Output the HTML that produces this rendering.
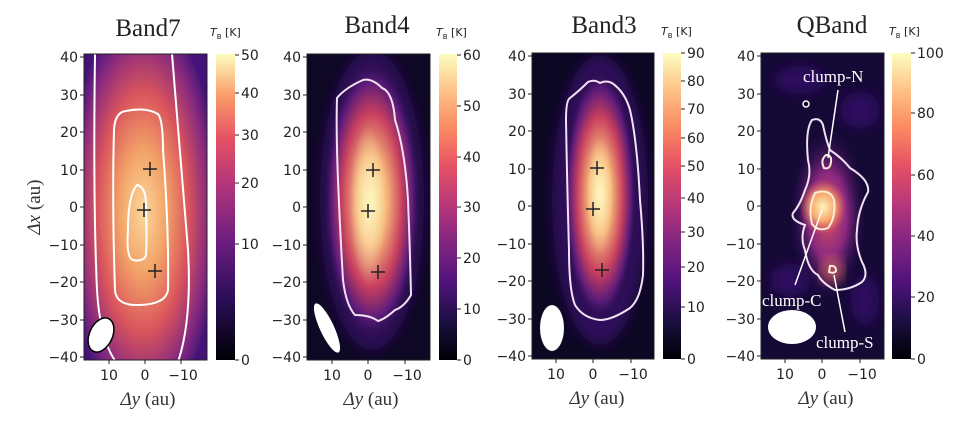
<!DOCTYPE html>
<html><head><meta charset="utf-8"><style>
body{margin:0;background:#fff}
svg{display:block}
.t{font-family:"Liberation Serif",serif;font-size:25px;fill:#222}
.k{font-family:"DejaVu Sans","Liberation Sans",sans-serif;font-size:14px;fill:#222}
.cb{font-family:"DejaVu Sans","Liberation Sans",sans-serif;font-size:11px;fill:#222}
.ax{font-family:"Liberation Serif",serif;font-size:19px;fill:#333}
.cl{font-family:"Liberation Serif",serif;font-size:17px;fill:#fff}
</style></head><body>
<svg width="961" height="436" viewBox="0 0 961 436" xmlns="http://www.w3.org/2000/svg">
<defs>
<linearGradient id="magma" x1="0" y1="1" x2="0" y2="0">
<stop offset="0" stop-color="#000004"/><stop offset="0.13" stop-color="#1c1044"/><stop offset="0.25" stop-color="#4f127b"/><stop offset="0.38" stop-color="#812581"/><stop offset="0.5" stop-color="#b5367a"/><stop offset="0.63" stop-color="#e55064"/><stop offset="0.75" stop-color="#fb8761"/><stop offset="0.88" stop-color="#fec287"/><stop offset="1" stop-color="#fcfdbf"/>
</linearGradient>
<radialGradient id="g7"><stop offset="0" stop-color="#fbd79c"/><stop offset="0.3" stop-color="#f3a468"/><stop offset="0.6" stop-color="#d9545c"/><stop offset="0.85" stop-color="#8a2a7e"/><stop offset="1" stop-color="#4a167a"/></radialGradient>
<radialGradient id="g4"><stop offset="0" stop-color="#fcf0b0"/><stop offset="0.3" stop-color="#f7b678"/><stop offset="0.6" stop-color="#c8405f"/><stop offset="0.82" stop-color="#5a1a7a"/><stop offset="1" stop-color="#140b30" stop-opacity="0"/></radialGradient>
<radialGradient id="gq"><stop offset="0" stop-color="#d8525e"/><stop offset="0.5" stop-color="#8a2880"/><stop offset="1" stop-color="#2a0e58" stop-opacity="0"/></radialGradient>
<radialGradient id="gqc"><stop offset="0" stop-color="#fcf4b8"/><stop offset="0.5" stop-color="#f8a86e"/><stop offset="1" stop-color="#e05560" stop-opacity="0"/></radialGradient>
<radialGradient id="glow"><stop offset="0" stop-color="#fdf6c0"/><stop offset="1" stop-color="#fdf6c0" stop-opacity="0"/></radialGradient>
<filter id="bl"><feGaussianBlur stdDeviation="6"/></filter>
<clipPath id="c1"><rect x="84" y="54" width="123" height="306"/></clipPath>
<clipPath id="c2"><rect x="307" y="54" width="123" height="306"/></clipPath>
<clipPath id="c3"><rect x="532" y="53" width="122" height="306"/></clipPath>
<clipPath id="c4"><rect x="761" y="53" width="123" height="306"/></clipPath>
<g id="plus"><path d="M-7 0H7M0-7V7" stroke="#222" stroke-width="1.5"/></g>
</defs>

<!-- Panel 1 -->
<text class="t" x="148" y="36" text-anchor="middle">Band7</text>
<g clip-path="url(#c1)">
<rect x="84" y="54" width="123" height="306" fill="#44137a"/>
<ellipse cx="143" cy="212" rx="76" ry="200" fill="url(#g7)"/>
<path d="M95 54 Q93 200 97 290 Q100 340 116 362" stroke="#fff" stroke-width="2" fill="none"/>
<path d="M172 54 Q180 150 188 250 Q192 320 178 362" stroke="#fff" stroke-width="2" fill="none"/>
<path d="M126 111 Q146 107 158 114 Q163 120 163 150 Q169 230 168 290 Q166 304 140 305 Q116 306 115 290 Q112 200 114 130 Q115 112 126 111Z" stroke="#fff" stroke-width="2" fill="none"/>
<path d="M137 185 Q146 187 146 205 Q147 240 146 255 Q144 262 133 260 Q126 258 128 230 Q128 195 137 185Z" stroke="#fff" stroke-width="2" fill="none"/>
<use href="#plus" x="150" y="169"/><use href="#plus" x="144" y="210"/><use href="#plus" x="155" y="271"/>
<ellipse cx="101" cy="335" rx="11.5" ry="18" transform="rotate(25 101 335)" fill="#fff" stroke="#000" stroke-width="1.5"/>
</g>
<rect x="84" y="54" width="123" height="306" fill="none" stroke="#222" stroke-width="1"/>
<g class="k" text-anchor="end">
<text x="78" y="62">40</text><text x="78" y="100">30</text><text x="78" y="137">20</text><text x="78" y="175">10</text><text x="78" y="212">0</text><text x="78" y="250">−10</text><text x="78" y="287">−20</text><text x="78" y="325">−30</text><text x="78" y="362">−40</text>
</g>
<g stroke="#222"><path d="M80 57h4M80 95h4M80 132h4M80 170h4M80 207h4M80 245h4M80 282h4M80 320h4M80 357h4M109 360v4M145 360v4M181 360v4"/></g>
<g class="k" text-anchor="middle"><text x="109" y="380">10</text><text x="145" y="380">0</text><text x="183" y="380">−10</text></g>
<text class="ax" x="148" y="405" text-anchor="middle"><tspan font-style="italic">Δy</tspan>  (au)</text>
<text class="ax" transform="translate(40 207) rotate(-90)" text-anchor="middle"><tspan font-style="italic">Δx</tspan>  (au)</text>
<linearGradient id="magma7" x1="0" y1="1" x2="0" y2="0">
<stop offset="0" stop-color="#000004"/><stop offset="0.2" stop-color="#2a0e58"/><stop offset="0.38" stop-color="#6a1d80"/><stop offset="0.58" stop-color="#b5367a"/><stop offset="0.72" stop-color="#e55064"/><stop offset="0.86" stop-color="#fb9a68"/><stop offset="1" stop-color="#fcfdbf"/>
</linearGradient>
<rect x="216" y="54" width="19" height="306" fill="url(#magma7)"/>
<g stroke="#222"><path d="M235 55h4M235 93h4M235 135h4M235 183h4M235 244h4M235 360h4"/></g>
<g class="k"><text x="241" y="60">50</text><text x="241" y="98">40</text><text x="241" y="140">30</text><text x="241" y="188">20</text><text x="241" y="249">10</text><text x="241" y="365">0</text></g>
<text class="cb" x="210" y="36"><tspan font-style="italic">T</tspan><tspan font-size="7" dy="3">B</tspan><tspan dy="-3"> [K]</tspan></text>

<!-- Panel 2 -->
<text class="t" x="377" y="33" text-anchor="middle">Band4</text>
<g clip-path="url(#c2)">
<rect x="307" y="54" width="123" height="306" fill="#0e0824"/>
<ellipse cx="372" cy="200" rx="52" ry="150" fill="#2e0c5c" filter="url(#bl)"/>
<ellipse cx="372" cy="200" rx="50" ry="145" fill="url(#g4)"/>
<ellipse cx="368" cy="205" rx="18" ry="80" fill="url(#glow)" opacity="0.8"/>
<path d="M363 80 Q372 78 382 88 Q393 92 395 120 Q405 150 408 200 Q410 250 411 295 Q404 307 395 310 Q385 319 378 321 Q370 315 355 315 Q346 305 343 280 Q340 230 338 180 Q336 130 337 98 Q345 88 363 80Z" stroke="#f3e2f3" stroke-width="2" fill="none"/>
<use href="#plus" x="373" y="170"/><use href="#plus" x="368" y="211"/><use href="#plus" x="378" y="272"/>
<ellipse cx="327" cy="328" rx="7" ry="27" transform="rotate(-25 327 328)" fill="#fff"/>
</g>
<rect x="307" y="54" width="123" height="306" fill="none" stroke="#222"/>
<g class="k" text-anchor="end">
<text x="301" y="62">40</text><text x="301" y="100">30</text><text x="301" y="137">20</text><text x="301" y="175">10</text><text x="301" y="212">0</text><text x="301" y="250">−10</text><text x="301" y="287">−20</text><text x="301" y="325">−30</text><text x="301" y="362">−40</text>
</g>
<g stroke="#222"><path d="M303 57h4M303 95h4M303 132h4M303 170h4M303 207h4M303 245h4M303 282h4M303 320h4M303 357h4M332 360v4M368 360v4M405 360v4"/></g>
<g class="k" text-anchor="middle"><text x="332" y="380">10</text><text x="368" y="380">0</text><text x="407" y="380">−10</text></g>
<text class="ax" x="371" y="405" text-anchor="middle"><tspan font-style="italic">Δy</tspan>  (au)</text>
<rect x="439" y="54" width="18" height="306" fill="url(#magma)"/>
<g stroke="#222"><path d="M457 55h4M457 106h4M457 157h4M457 207h4M457 258h4M457 309h4M457 360h4"/></g>
<g class="k"><text x="463" y="60">60</text><text x="463" y="111">50</text><text x="463" y="162">40</text><text x="463" y="212">30</text><text x="463" y="263">20</text><text x="463" y="314">10</text><text x="463" y="365">0</text></g>
<text class="cb" x="436" y="36"><tspan font-style="italic">T</tspan><tspan font-size="7" dy="3">B</tspan><tspan dy="-3"> [K]</tspan></text>

<!-- Panel 3 -->
<text class="t" x="604" y="33" text-anchor="middle">Band3</text>
<g clip-path="url(#c3)">
<rect x="532" y="53" width="122" height="306" fill="#0c0722"/>
<ellipse cx="600" cy="200" rx="48" ry="145" fill="#2e0c5c" filter="url(#bl)"/>
<ellipse cx="600" cy="195" rx="38" ry="130" fill="url(#g4)"/>
<ellipse cx="600" cy="195" rx="13" ry="60" fill="url(#glow)" opacity="0.7"/>
<path d="M588 82 Q594 79 600 83 Q606 80 612 83 Q625 92 630 110 Q637 140 640 200 Q644 245 643 275 Q640 300 630 308 Q612 320 600 320 Q583 318 575 305 Q569 290 569 250 Q567 180 566 120 Q566 100 570 98 Q580 90 588 82Z" stroke="#f3e2f3" stroke-width="2" fill="none"/>
<use href="#plus" x="597" y="168"/><use href="#plus" x="593" y="209"/><use href="#plus" x="602" y="270"/>
<ellipse cx="552" cy="328" rx="12" ry="23" fill="#fff"/>
</g>
<rect x="532" y="53" width="122" height="306" fill="none" stroke="#222"/>
<g class="k" text-anchor="end">
<text x="526" y="61">40</text><text x="526" y="99">30</text><text x="526" y="136">20</text><text x="526" y="174">10</text><text x="526" y="211">0</text><text x="526" y="249">−10</text><text x="526" y="286">−20</text><text x="526" y="324">−30</text><text x="526" y="361">−40</text>
</g>
<g stroke="#222"><path d="M528 56h4M528 94h4M528 131h4M528 169h4M528 206h4M528 244h4M528 281h4M528 319h4M528 356h4M556 359v4M593 359v4M631 359v4"/></g>
<g class="k" text-anchor="middle"><text x="556" y="379">10</text><text x="593" y="379">0</text><text x="633" y="379">−10</text></g>
<text class="ax" x="597" y="404" text-anchor="middle"><tspan font-style="italic">Δy</tspan>  (au)</text>
<rect x="663" y="53" width="18" height="306" fill="url(#magma)"/>
<g stroke="#222"><path d="M681 53h4M681 81h4M681 109h4M681 138h4M681 166h4M681 198h4M681 232h4M681 267h4M681 307h4M681 359h4"/></g>
<g class="k"><text x="687" y="58">90</text><text x="687" y="86">80</text><text x="687" y="114">70</text><text x="687" y="143">60</text><text x="687" y="171">50</text><text x="687" y="203">40</text><text x="687" y="237">30</text><text x="687" y="272">20</text><text x="687" y="312">10</text><text x="687" y="364">0</text></g>
<text class="cb" x="661" y="35"><tspan font-style="italic">T</tspan><tspan font-size="7" dy="3">B</tspan><tspan dy="-3"> [K]</tspan></text>

<!-- Panel 4 -->
<text class="t" x="832" y="33" text-anchor="middle">QBand</text>
<g clip-path="url(#c4)">
<rect x="761" y="53" width="123" height="306" fill="#150936"/>
<g filter="url(#bl)" fill="#34106a" opacity="0.8"><ellipse cx="800" cy="80" rx="25" ry="14"/><ellipse cx="860" cy="110" rx="20" ry="18"/><ellipse cx="790" cy="280" rx="20" ry="16"/><ellipse cx="865" cy="300" rx="14" ry="25"/></g>
<ellipse cx="828" cy="215" rx="38" ry="85" fill="url(#gq)"/>
<ellipse cx="823" cy="207" rx="24" ry="28" fill="url(#gqc)"/>
<ellipse cx="832" cy="270" rx="12" ry="14" fill="#e8705e" opacity="0.6" filter="url(#bl)"/>
<path d="M812 120 Q820 117 823 125 Q826 140 830 150 Q842 158 850 168 Q870 180 868 192 Q858 210 857 230 Q855 245 862 262 Q869 275 862 282 Q850 290 835 290 Q822 283 818 275 Q808 270 805 250 Q800 238 805 225 Q790 220 793 213 Q800 205 805 190 Q812 175 808 160 Q805 130 812 120Z" stroke="#f3e2f3" stroke-width="2" fill="none"/>
<path d="M815 193 Q830 188 834 200 Q836 218 828 228 Q818 232 812 224 Q808 207 815 193Z" stroke="#f7ecd8" stroke-width="2" fill="none"/>
<path d="M826 155 Q832 155 831 162 Q830 170 824 168 Q820 160 826 155Z" stroke="#f7ecd8" stroke-width="2" fill="none"/>
<path d="M830 266 Q836 265 836 271 Q834 274 829 272Z" stroke="#f7ecd8" stroke-width="2" fill="none"/>
<circle cx="806" cy="104" r="3" stroke="#fff" stroke-width="1.5" fill="none"/>
<path d="M838 90 L828 158 M822 210 L795 285 M834 275 L845 332" stroke="#fff" stroke-width="1.5"/>
<text class="cl" x="803" y="82">clump-N</text>
<text class="cl" x="762" y="306">clump-C</text>
<text class="cl" x="816" y="348">clump-S</text>
<ellipse cx="792" cy="327" rx="24" ry="17" fill="#fff"/>
</g>
<rect x="761" y="53" width="123" height="306" fill="none" stroke="#222"/>
<g class="k" text-anchor="end">
<text x="755" y="61">40</text><text x="755" y="99">30</text><text x="755" y="136">20</text><text x="755" y="174">10</text><text x="755" y="211">0</text><text x="755" y="249">−10</text><text x="755" y="286">−20</text><text x="755" y="324">−30</text><text x="755" y="361">−40</text>
</g>
<g stroke="#222"><path d="M757 56h4M757 94h4M757 131h4M757 169h4M757 206h4M757 244h4M757 281h4M757 319h4M757 356h4M785 359v4M822 359v4M860 359v4"/></g>
<g class="k" text-anchor="middle"><text x="785" y="379">10</text><text x="822" y="379">0</text><text x="862" y="379">−10</text></g>
<text class="ax" x="826" y="404" text-anchor="middle"><tspan font-style="italic">Δy</tspan>  (au)</text>
<rect x="892" y="53" width="19" height="306" fill="url(#magma)"/>
<g stroke="#222"><path d="M911 53h4M911 113h4M911 175h4M911 236h4M911 297h4M911 359h4"/></g>
<g class="k"><text x="917" y="58">100</text><text x="917" y="118">80</text><text x="917" y="180">60</text><text x="917" y="241">40</text><text x="917" y="302">20</text><text x="917" y="364">0</text></g>
<text class="cb" x="889" y="35"><tspan font-style="italic">T</tspan><tspan font-size="7" dy="3">B</tspan><tspan dy="-3"> [K]</tspan></text>
</svg>
</body></html>
